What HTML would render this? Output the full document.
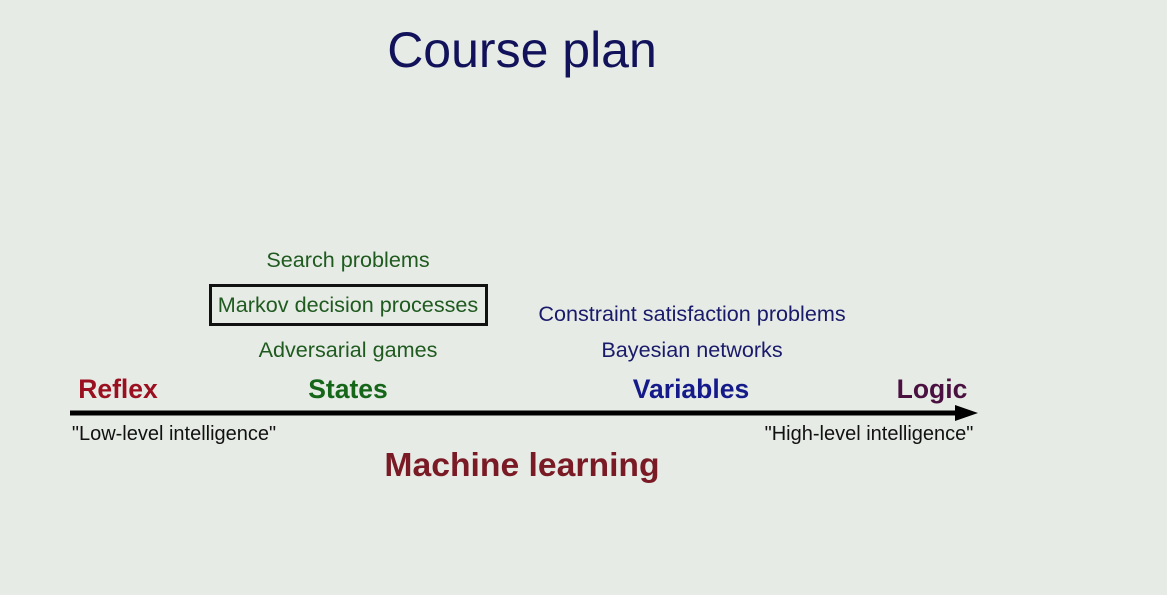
<!DOCTYPE html>
<html><head><meta charset="utf-8"><style>
body{margin:0;width:1167px;height:595px;background:#e6ebe6;position:relative;overflow:hidden;font-family:"Liberation Sans",sans-serif}
.t{position:absolute;white-space:nowrap;transform:translate(-50%,-50%);line-height:1}
</style></head><body>
<div class="t" style="left:522px;top:50px;font-size:50px;color:#12125a">Course plan</div>
<div class="t" style="left:348px;top:260px;font-size:21.6px;color:#1f5a1f">Search problems</div>
<div style="position:absolute;left:209px;top:284px;width:273px;height:36px;border:3px solid #111"></div>
<div class="t" style="left:348px;top:305px;font-size:21.6px;color:#1f5a1f">Markov decision processes</div>
<div class="t" style="left:348px;top:350px;font-size:21.6px;color:#1f5a1f">Adversarial games</div>
<div class="t" style="left:692px;top:314px;font-size:21.6px;color:#1a1a6a">Constraint satisfaction problems</div>
<div class="t" style="left:692px;top:350px;font-size:21.6px;color:#1a1a6a">Bayesian networks</div>
<div class="t" style="left:118px;top:389px;font-size:26.5px;font-weight:bold;color:#9a1020">Reflex</div>
<div class="t" style="left:348px;top:389px;font-size:26.5px;font-weight:bold;color:#16661a">States</div>
<div class="t" style="left:691px;top:389px;font-size:26.5px;font-weight:bold;color:#151a8a">Variables</div>
<div class="t" style="left:932px;top:389px;font-size:26.5px;font-weight:bold;color:#4a1040">Logic</div>
<svg style="position:absolute;left:0;top:0" width="1167" height="595">
<line x1="70" y1="413" x2="962" y2="413" stroke="#000" stroke-width="5"/>
<polygon points="955,405 978,413 955,421" fill="#000"/>
</svg>
<div class="t" style="left:174px;top:434px;font-size:20px;color:#111">"Low-level intelligence"</div>
<div class="t" style="left:869px;top:434px;font-size:20px;color:#111">"High-level intelligence"</div>
<div class="t" style="left:522px;top:466px;font-size:33.7px;font-weight:bold;color:#7a1a24">Machine learning</div>
</body></html>
